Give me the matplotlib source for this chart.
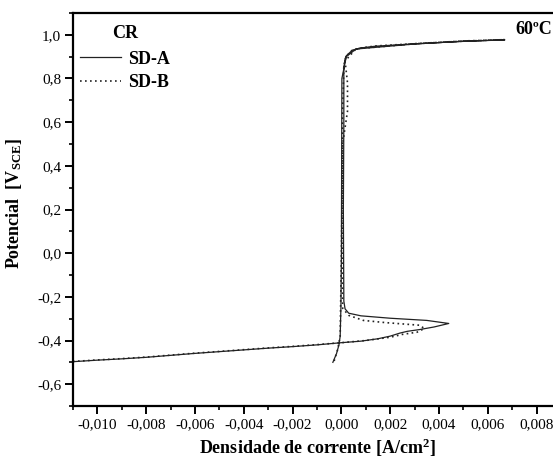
import matplotlib
matplotlib.use("Agg")
import matplotlib.pyplot as plt
from matplotlib.ticker import MultipleLocator, FuncFormatter

# ---- data ----
sda_x = [-0.0110, -0.0100, -0.0090, -0.0080, -0.0070, -0.0060, -0.0050, -0.0040,
         -0.0030, -0.0020, -0.0010, 0.0000, 0.0008, 0.0015, 0.0020, 0.0024,
         0.0027, 0.0032, 0.0038, 0.0044, 0.0035, 0.0020, 0.0008, 0.0003,
         0.00015, 0.00010, 0.00008, 0.00010, 0.00010, 0.00015, 0.00020, 0.00045,
         0.0008, 0.0014, 0.0032, 0.0050, 0.0067,
         0.0050, 0.0030, 0.0006, 0.0002, 0.00002, 0.00000, -0.00002, -0.00005,
         -0.00010, -0.00020, -0.00035]
sda_y = [-0.497, -0.490, -0.484, -0.477, -0.468, -0.459, -0.451, -0.443,
         -0.435, -0.428, -0.420, -0.410, -0.403, -0.392, -0.380, -0.366,
         -0.358, -0.350, -0.338, -0.322, -0.308, -0.298, -0.287, -0.275,
         -0.255, -0.220, 0.200, 0.600, 0.850, 0.890, 0.904, 0.930,
         0.940, 0.948, 0.960, 0.970, 0.977,
         0.971, 0.958, 0.935, 0.900, 0.800, 0.000, -0.250, -0.380,
         -0.420, -0.460, -0.500]

sdb_x = [-0.0110, -0.0100, -0.0090, -0.0080, -0.0070, -0.0060, -0.0050, -0.0040,
         -0.0030, -0.0020, -0.0010, 0.0000, 0.0010, 0.0020, 0.0025, 0.0031,
         0.0034, 0.0032, 0.0018, 0.0009, 0.0003, 0.00005, 0.00003, 0.00004,
         0.00010, 0.00020, 0.00045, 0.0008, 0.0014, 0.0032, 0.0050, 0.0067,
         0.0050, 0.0030, 0.0006, 0.00015, 0.00025, 0.00025, 0.00005, 0.00000,
         -0.00005, -0.00015, -0.00030]
sdb_y = [-0.496, -0.489, -0.483, -0.476, -0.467, -0.458, -0.450, -0.442,
         -0.434, -0.427, -0.419, -0.410, -0.400, -0.385, -0.372, -0.362,
         -0.345, -0.330, -0.318, -0.308, -0.285, -0.252, 0.200, 0.600,
         0.860, 0.902, 0.930, 0.940, 0.949, 0.961, 0.971, 0.978,
         0.972, 0.959, 0.936, 0.880, 0.780, 0.650, 0.500, 0.000,
         -0.380, -0.440, -0.495]

xlim = (-0.011, 0.009)
ylim = (-0.7, 1.1)

plt.rcParams['font.family'] = ['Liberation Serif', 'DejaVu Serif']
plt.rcParams['mathtext.fontset'] = 'custom'
plt.rcParams['mathtext.rm'] = 'Liberation Serif'
plt.rcParams['mathtext.bf'] = 'Liberation Serif:bold'
plt.rcParams['mathtext.it'] = 'Liberation Serif:italic'

fig = plt.figure(figsize=(5.53, 4.62), dpi=100)
ax = fig.add_axes([73/553, 1-406/462, (561-73)/553, (406-13)/462])

ax.plot(sda_x, sda_y, color='#222222', lw=0.9, ls='-', label='SD-A')
ax.plot(sdb_x, sdb_y, color='#222222', lw=1.2, ls=(0, (1, 2)), label='SD-B')

ax.set_xlim(*xlim)
ax.set_ylim(*ylim)

ax.xaxis.set_major_locator(MultipleLocator(0.002))
ax.xaxis.set_minor_locator(MultipleLocator(0.001))
ax.yaxis.set_major_locator(MultipleLocator(0.2))
ax.yaxis.set_minor_locator(MultipleLocator(0.1))
ax.xaxis.set_major_formatter(FuncFormatter(lambda v, p: ("%.3f" % v).replace('.', ',').replace('-0,000', '0,000')))
ax.yaxis.set_major_formatter(FuncFormatter(lambda v, p: ("%.1f" % v).replace('.', ',').replace('-0,0', '0,0')))

for s in ax.spines.values():
    s.set_linewidth(1.6)
ax.tick_params(which='major', direction='out', length=5.5, width=1.4, labelsize=11, pad=3)
ax.tick_params(which='minor', direction='out', length=3, width=1.2)

ax.set_xlabel('Densidade de corrente [A/cm$^{\\mathbf{2}}$]', fontsize=13, fontweight='bold', labelpad=4)
ax.set_ylabel('Potencial  [V$_{\\mathbf{SCE}}$]', fontsize=13, fontweight='bold')
ax.yaxis.set_label_coords(-0.10, 0.515)

leg = ax.legend(loc='upper left', bbox_to_anchor=(0.014, 0.969), frameon=False,
                title='CR', prop={'size': 13, 'weight': 'bold'},
                handlelength=2.3, handletextpad=0.35, labelspacing=0.35,
                borderpad=0, borderaxespad=0)
leg.get_title().set_fontsize(13)
leg.get_title().set_fontweight('bold')
leg._legend_box.sep = 6

fig.text(515/553, 1-30/462, '60ºC', fontsize=13, fontweight='bold', va='center', ha='left')

fig.savefig('out.png', dpi=100)
